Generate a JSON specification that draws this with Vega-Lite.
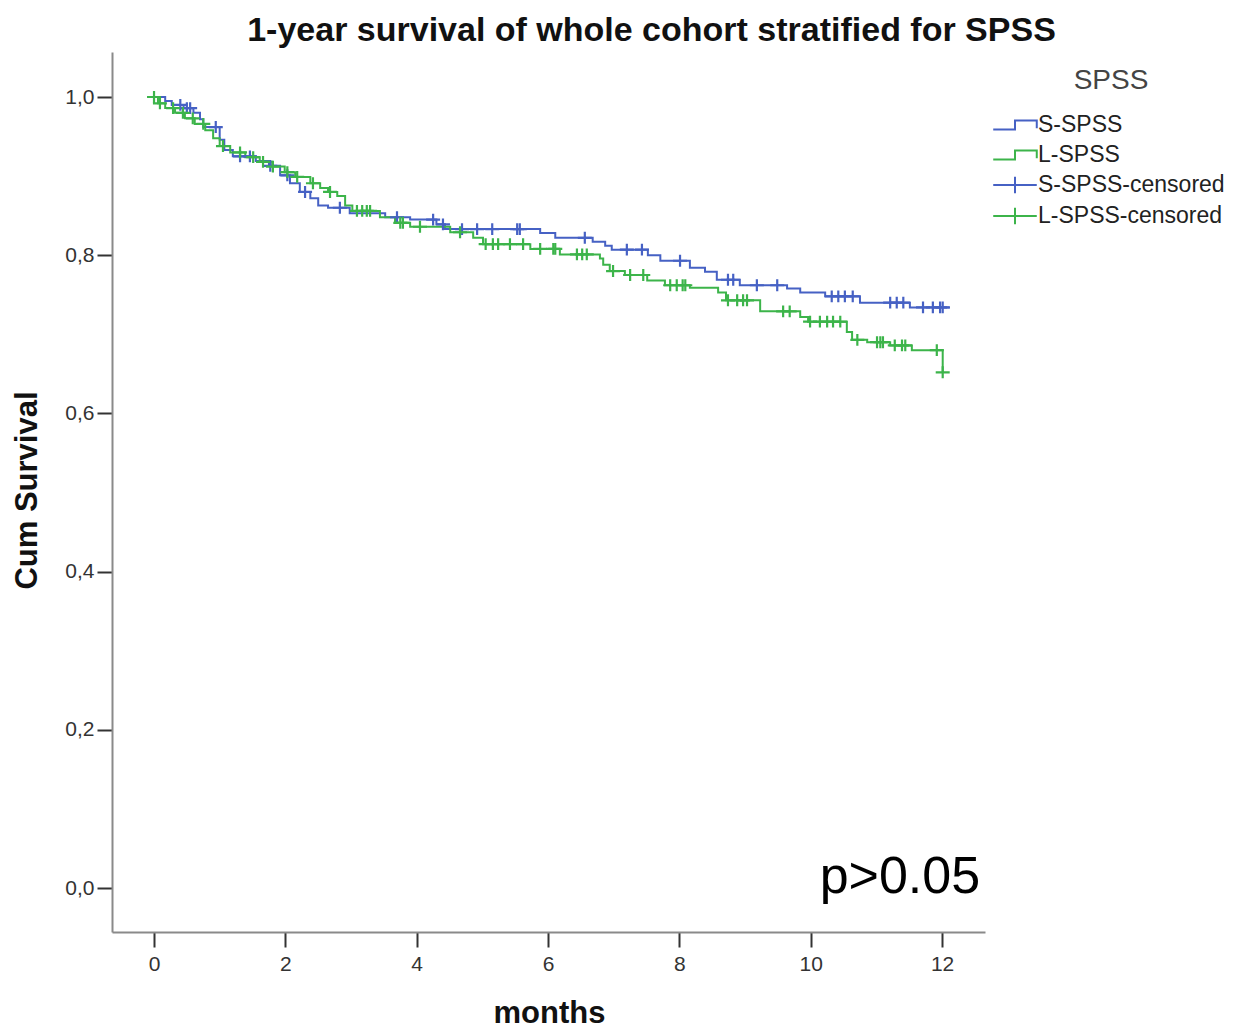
{
  "$schema": "https://vega.github.io/schema/vega-lite/v6.json",
  "autosize": "none",
  "width": 873,
  "height": 880,
  "padding": {"left": 112, "top": 52, "right": 260, "bottom": 98},
  "background": "white",
  "config": {"view": {"stroke": null}},
  "title": {
    "text": "1-year survival of whole cohort stratified for SPSS",
    "font": "Liberation Sans",
    "fontSize": 34,
    "fontWeight": "bold",
    "color": "#111",
    "anchor": "middle",
    "dx": 103,
    "offset": 4
  },
  "datasets": {
    "steps": [
      {"series": "S-SPSS", "months": 0.00, "surv": 1.000},
      {"series": "S-SPSS", "months": 0.17, "surv": 0.995},
      {"series": "S-SPSS", "months": 0.27, "surv": 0.990},
      {"series": "S-SPSS", "months": 0.45, "surv": 0.986},
      {"series": "S-SPSS", "months": 0.60, "surv": 0.980},
      {"series": "S-SPSS", "months": 0.70, "surv": 0.972},
      {"series": "S-SPSS", "months": 0.75, "surv": 0.962},
      {"series": "S-SPSS", "months": 1.00, "surv": 0.946},
      {"series": "S-SPSS", "months": 1.07, "surv": 0.933},
      {"series": "S-SPSS", "months": 1.20, "surv": 0.925},
      {"series": "S-SPSS", "months": 1.55, "surv": 0.919},
      {"series": "S-SPSS", "months": 1.75, "surv": 0.913},
      {"series": "S-SPSS", "months": 1.92, "surv": 0.901},
      {"series": "S-SPSS", "months": 2.07, "surv": 0.891},
      {"series": "S-SPSS", "months": 2.22, "surv": 0.880},
      {"series": "S-SPSS", "months": 2.38, "surv": 0.872},
      {"series": "S-SPSS", "months": 2.50, "surv": 0.863},
      {"series": "S-SPSS", "months": 2.65, "surv": 0.860},
      {"series": "S-SPSS", "months": 2.98, "surv": 0.853},
      {"series": "S-SPSS", "months": 3.52, "surv": 0.848},
      {"series": "S-SPSS", "months": 3.90, "surv": 0.845},
      {"series": "S-SPSS", "months": 4.30, "surv": 0.839},
      {"series": "S-SPSS", "months": 4.43, "surv": 0.833},
      {"series": "S-SPSS", "months": 5.88, "surv": 0.828},
      {"series": "S-SPSS", "months": 6.11, "surv": 0.822},
      {"series": "S-SPSS", "months": 6.68, "surv": 0.817},
      {"series": "S-SPSS", "months": 6.87, "surv": 0.812},
      {"series": "S-SPSS", "months": 6.97, "surv": 0.807},
      {"series": "S-SPSS", "months": 7.52, "surv": 0.800},
      {"series": "S-SPSS", "months": 7.71, "surv": 0.793},
      {"series": "S-SPSS", "months": 8.16, "surv": 0.784},
      {"series": "S-SPSS", "months": 8.39, "surv": 0.779},
      {"series": "S-SPSS", "months": 8.57, "surv": 0.769},
      {"series": "S-SPSS", "months": 8.92, "surv": 0.762},
      {"series": "S-SPSS", "months": 9.64, "surv": 0.758},
      {"series": "S-SPSS", "months": 9.84, "surv": 0.753},
      {"series": "S-SPSS", "months": 10.22, "surv": 0.748},
      {"series": "S-SPSS", "months": 10.75, "surv": 0.740},
      {"series": "S-SPSS", "months": 11.51, "surv": 0.734},
      {"series": "S-SPSS", "months": 12.12, "surv": 0.734},
      {"series": "L-SPSS", "months": 0.00, "surv": 1.000},
      {"series": "L-SPSS", "months": 0.06, "surv": 0.992},
      {"series": "L-SPSS", "months": 0.17, "surv": 0.986},
      {"series": "L-SPSS", "months": 0.32, "surv": 0.980},
      {"series": "L-SPSS", "months": 0.47, "surv": 0.973},
      {"series": "L-SPSS", "months": 0.62, "surv": 0.966},
      {"series": "L-SPSS", "months": 0.78, "surv": 0.958},
      {"series": "L-SPSS", "months": 0.90, "surv": 0.948},
      {"series": "L-SPSS", "months": 1.00, "surv": 0.938},
      {"series": "L-SPSS", "months": 1.16, "surv": 0.930},
      {"series": "L-SPSS", "months": 1.39, "surv": 0.924},
      {"series": "L-SPSS", "months": 1.61, "surv": 0.918},
      {"series": "L-SPSS", "months": 1.80, "surv": 0.912},
      {"series": "L-SPSS", "months": 1.99, "surv": 0.905},
      {"series": "L-SPSS", "months": 2.15, "surv": 0.899},
      {"series": "L-SPSS", "months": 2.38, "surv": 0.891},
      {"series": "L-SPSS", "months": 2.53, "surv": 0.885},
      {"series": "L-SPSS", "months": 2.65, "surv": 0.880},
      {"series": "L-SPSS", "months": 2.79, "surv": 0.875},
      {"series": "L-SPSS", "months": 2.91, "surv": 0.863},
      {"series": "L-SPSS", "months": 3.02, "surv": 0.856},
      {"series": "L-SPSS", "months": 3.44, "surv": 0.848},
      {"series": "L-SPSS", "months": 3.67, "surv": 0.841},
      {"series": "L-SPSS", "months": 3.90, "surv": 0.836},
      {"series": "L-SPSS", "months": 4.51, "surv": 0.829},
      {"series": "L-SPSS", "months": 4.86, "surv": 0.822},
      {"series": "L-SPSS", "months": 5.01, "surv": 0.814},
      {"series": "L-SPSS", "months": 5.73, "surv": 0.808},
      {"series": "L-SPSS", "months": 6.18, "surv": 0.801},
      {"series": "L-SPSS", "months": 6.79, "surv": 0.796},
      {"series": "L-SPSS", "months": 6.84, "surv": 0.788},
      {"series": "L-SPSS", "months": 6.94, "surv": 0.780},
      {"series": "L-SPSS", "months": 7.17, "surv": 0.775},
      {"series": "L-SPSS", "months": 7.51, "surv": 0.768},
      {"series": "L-SPSS", "months": 7.78, "surv": 0.762},
      {"series": "L-SPSS", "months": 8.16, "surv": 0.759},
      {"series": "L-SPSS", "months": 8.59, "surv": 0.753},
      {"series": "L-SPSS", "months": 8.71, "surv": 0.743},
      {"series": "L-SPSS", "months": 9.23, "surv": 0.729},
      {"series": "L-SPSS", "months": 9.84, "surv": 0.722},
      {"series": "L-SPSS", "months": 9.96, "surv": 0.716},
      {"series": "L-SPSS", "months": 10.55, "surv": 0.703},
      {"series": "L-SPSS", "months": 10.63, "surv": 0.693},
      {"series": "L-SPSS", "months": 10.86, "surv": 0.690},
      {"series": "L-SPSS", "months": 11.21, "surv": 0.686},
      {"series": "L-SPSS", "months": 11.54, "surv": 0.680},
      {"series": "L-SPSS", "months": 12.01, "surv": 0.652}
    ],
    "censored": [
      {"series": "S-SPSS-censored", "months": 0.40, "surv": 0.990},
      {"series": "S-SPSS-censored", "months": 0.50, "surv": 0.986},
      {"series": "S-SPSS-censored", "months": 0.55, "surv": 0.986},
      {"series": "S-SPSS-censored", "months": 0.94, "surv": 0.962},
      {"series": "S-SPSS-censored", "months": 1.31, "surv": 0.925},
      {"series": "S-SPSS-censored", "months": 1.46, "surv": 0.925},
      {"series": "S-SPSS-censored", "months": 1.77, "surv": 0.913},
      {"series": "S-SPSS-censored", "months": 2.03, "surv": 0.901},
      {"series": "S-SPSS-censored", "months": 2.30, "surv": 0.880},
      {"series": "S-SPSS-censored", "months": 2.83, "surv": 0.860},
      {"series": "S-SPSS-censored", "months": 3.70, "surv": 0.848},
      {"series": "S-SPSS-censored", "months": 4.25, "surv": 0.845},
      {"series": "S-SPSS-censored", "months": 4.40, "surv": 0.839},
      {"series": "S-SPSS-censored", "months": 4.69, "surv": 0.833},
      {"series": "S-SPSS-censored", "months": 4.92, "surv": 0.833},
      {"series": "S-SPSS-censored", "months": 5.15, "surv": 0.833},
      {"series": "S-SPSS-censored", "months": 5.53, "surv": 0.833},
      {"series": "S-SPSS-censored", "months": 5.57, "surv": 0.833},
      {"series": "S-SPSS-censored", "months": 6.56, "surv": 0.822},
      {"series": "S-SPSS-censored", "months": 7.20, "surv": 0.807},
      {"series": "S-SPSS-censored", "months": 7.43, "surv": 0.807},
      {"series": "S-SPSS-censored", "months": 8.01, "surv": 0.793},
      {"series": "S-SPSS-censored", "months": 8.74, "surv": 0.769},
      {"series": "S-SPSS-censored", "months": 8.82, "surv": 0.769},
      {"series": "S-SPSS-censored", "months": 9.18, "surv": 0.762},
      {"series": "S-SPSS-censored", "months": 9.49, "surv": 0.762},
      {"series": "S-SPSS-censored", "months": 10.32, "surv": 0.748},
      {"series": "S-SPSS-censored", "months": 10.42, "surv": 0.748},
      {"series": "S-SPSS-censored", "months": 10.52, "surv": 0.748},
      {"series": "S-SPSS-censored", "months": 10.64, "surv": 0.748},
      {"series": "S-SPSS-censored", "months": 11.21, "surv": 0.740},
      {"series": "S-SPSS-censored", "months": 11.31, "surv": 0.740},
      {"series": "S-SPSS-censored", "months": 11.41, "surv": 0.740},
      {"series": "S-SPSS-censored", "months": 11.71, "surv": 0.734},
      {"series": "S-SPSS-censored", "months": 11.86, "surv": 0.734},
      {"series": "S-SPSS-censored", "months": 11.97, "surv": 0.734},
      {"series": "S-SPSS-censored", "months": 12.01, "surv": 0.734},
      {"series": "L-SPSS-censored", "months": 0.00, "surv": 1.000},
      {"series": "L-SPSS-censored", "months": 0.09, "surv": 0.992},
      {"series": "L-SPSS-censored", "months": 0.29, "surv": 0.986},
      {"series": "L-SPSS-censored", "months": 0.44, "surv": 0.980},
      {"series": "L-SPSS-censored", "months": 0.59, "surv": 0.973},
      {"series": "L-SPSS-censored", "months": 0.75, "surv": 0.966},
      {"series": "L-SPSS-censored", "months": 1.05, "surv": 0.938},
      {"series": "L-SPSS-censored", "months": 1.31, "surv": 0.930},
      {"series": "L-SPSS-censored", "months": 1.51, "surv": 0.924},
      {"series": "L-SPSS-censored", "months": 1.66, "surv": 0.918},
      {"series": "L-SPSS-censored", "months": 1.81, "surv": 0.912},
      {"series": "L-SPSS-censored", "months": 2.03, "surv": 0.905},
      {"series": "L-SPSS-censored", "months": 2.18, "surv": 0.899},
      {"series": "L-SPSS-censored", "months": 2.42, "surv": 0.891},
      {"series": "L-SPSS-censored", "months": 2.68, "surv": 0.880},
      {"series": "L-SPSS-censored", "months": 3.09, "surv": 0.856},
      {"series": "L-SPSS-censored", "months": 3.17, "surv": 0.856},
      {"series": "L-SPSS-censored", "months": 3.24, "surv": 0.856},
      {"series": "L-SPSS-censored", "months": 3.29, "surv": 0.856},
      {"series": "L-SPSS-censored", "months": 3.75, "surv": 0.841},
      {"series": "L-SPSS-censored", "months": 3.79, "surv": 0.841},
      {"series": "L-SPSS-censored", "months": 4.05, "surv": 0.836},
      {"series": "L-SPSS-censored", "months": 4.66, "surv": 0.829},
      {"series": "L-SPSS-censored", "months": 5.05, "surv": 0.814},
      {"series": "L-SPSS-censored", "months": 5.16, "surv": 0.814},
      {"series": "L-SPSS-censored", "months": 5.24, "surv": 0.814},
      {"series": "L-SPSS-censored", "months": 5.42, "surv": 0.814},
      {"series": "L-SPSS-censored", "months": 5.62, "surv": 0.814},
      {"series": "L-SPSS-censored", "months": 5.88, "surv": 0.808},
      {"series": "L-SPSS-censored", "months": 6.08, "surv": 0.808},
      {"series": "L-SPSS-censored", "months": 6.11, "surv": 0.808},
      {"series": "L-SPSS-censored", "months": 6.44, "surv": 0.801},
      {"series": "L-SPSS-censored", "months": 6.52, "surv": 0.801},
      {"series": "L-SPSS-censored", "months": 6.59, "surv": 0.801},
      {"series": "L-SPSS-censored", "months": 6.99, "surv": 0.780},
      {"series": "L-SPSS-censored", "months": 7.25, "surv": 0.775},
      {"series": "L-SPSS-censored", "months": 7.45, "surv": 0.775},
      {"series": "L-SPSS-censored", "months": 7.86, "surv": 0.762},
      {"series": "L-SPSS-censored", "months": 7.96, "surv": 0.762},
      {"series": "L-SPSS-censored", "months": 8.05, "surv": 0.762},
      {"series": "L-SPSS-censored", "months": 8.09, "surv": 0.762},
      {"series": "L-SPSS-censored", "months": 8.74, "surv": 0.743},
      {"series": "L-SPSS-censored", "months": 8.88, "surv": 0.743},
      {"series": "L-SPSS-censored", "months": 8.97, "surv": 0.743},
      {"series": "L-SPSS-censored", "months": 9.03, "surv": 0.743},
      {"series": "L-SPSS-censored", "months": 9.58, "surv": 0.729},
      {"series": "L-SPSS-censored", "months": 9.68, "surv": 0.729},
      {"series": "L-SPSS-censored", "months": 9.99, "surv": 0.716},
      {"series": "L-SPSS-censored", "months": 10.14, "surv": 0.716},
      {"series": "L-SPSS-censored", "months": 10.25, "surv": 0.716},
      {"series": "L-SPSS-censored", "months": 10.34, "surv": 0.716},
      {"series": "L-SPSS-censored", "months": 10.45, "surv": 0.716},
      {"series": "L-SPSS-censored", "months": 10.71, "surv": 0.693},
      {"series": "L-SPSS-censored", "months": 11.01, "surv": 0.690},
      {"series": "L-SPSS-censored", "months": 11.06, "surv": 0.690},
      {"series": "L-SPSS-censored", "months": 11.10, "surv": 0.690},
      {"series": "L-SPSS-censored", "months": 11.28, "surv": 0.686},
      {"series": "L-SPSS-censored", "months": 11.39, "surv": 0.686},
      {"series": "L-SPSS-censored", "months": 11.44, "surv": 0.686},
      {"series": "L-SPSS-censored", "months": 11.92, "surv": 0.680},
      {"series": "L-SPSS-censored", "months": 12.01, "surv": 0.652}
    ],
    "notes": [
      {"label": "p>0.05", "months": 12.58, "surv": -0.006}
    ]
  },
  "encoding": {
    "x": {
      "field": "months",
      "type": "quantitative",
      "scale": {"domain": [-0.64, 12.654], "nice": false, "zero": false},
      "axis": {
        "title": "months",
        "values": [0, 2, 4, 6, 8, 10, 12],
        "grid": false,
        "domainColor": "#8a8a8a",
        "domainWidth": 2,
        "tickColor": "#333",
        "tickWidth": 2,
        "tickSize": 15,
        "labelFont": "Liberation Sans",
        "labelFontSize": 21,
        "labelColor": "#333",
        "labelPadding": 6,
        "titleFont": "Liberation Sans",
        "titleFontSize": 31,
        "titleFontWeight": "bold",
        "titleColor": "#111",
        "titleX": 437,
        "titleY": 81,
        "titleBaseline": "middle"
      }
    },
    "y": {
      "field": "surv",
      "type": "quantitative",
      "scale": {"domain": [-0.0556, 1.0569], "nice": false, "zero": false},
      "axis": {
        "title": "Cum Survival",
        "values": [0, 0.2, 0.4, 0.6, 0.8, 1.0],
        "labelExpr": "replace(format(datum.value, '.1f'), '.', ',')",
        "grid": false,
        "domainColor": "#8a8a8a",
        "domainWidth": 2,
        "tickColor": "#333",
        "tickWidth": 2,
        "tickSize": 15,
        "labelFont": "Liberation Sans",
        "labelFontSize": 21,
        "labelColor": "#333",
        "labelPadding": 3,
        "titleFont": "Liberation Sans",
        "titleFontSize": 31,
        "titleFontWeight": "bold",
        "titleColor": "#111",
        "titleX": -85,
        "titleY": 438,
        "titleBaseline": "middle",
        "titleAngle": -90
      }
    }
  },
  "resolve": {"legend": {"color": "independent", "shape": "independent"}},
  "layer": [
    {
      "data": {"name": "steps"},
      "mark": {"type": "line", "interpolate": "step-after", "strokeWidth": 2},
      "encoding": {
        "color": {
          "field": "series",
          "type": "nominal",
          "scale": {
            "domain": ["S-SPSS", "L-SPSS", "S-SPSS-censored", "L-SPSS-censored"],
            "range": ["#4661c4", "#3cb44a", "#4661c4", "#3cb44a"]
          },
          "legend": null
        },
        "detail": {"field": "series"}
      }
    },
    {
      "data": {"name": "censored"},
      "mark": {"type": "point", "filled": false, "size": 196, "strokeWidth": 2.2, "opacity": 1, "shape": "M-1,0H1M0,-0.85V0.85"},
      "encoding": {
        "color": {"field": "series", "type": "nominal", "legend": null}
      }
    },
    {
      "data": {"name": "censored"},
      "mark": {"type": "point", "filled": false, "size": 0, "opacity": 1},
      "encoding": {
        "color": {
          "field": "series",
          "type": "nominal",
          "title": "SPSS",
          "legend": {
            "orient": "none",
            "legendX": 885,
            "legendY": 15,
            "titleAnchor": "middle",
            "titleFont": "Liberation Sans",
            "titleFontSize": 28,
            "titleFontWeight": "normal",
            "titleColor": "#444",
            "titlePadding": 12,
            "labelFont": "Liberation Sans",
            "labelFontSize": 23,
            "labelColor": "#222",
            "labelOffset": 5,
            "labelLimit": 400,
            "symbolSize": 1122,
            "symbolStrokeWidth": 2,
            "rowPadding": 0
          }
        },
        "shape": {
          "field": "series",
          "type": "nominal",
          "title": "SPSS",
          "scale": {
            "domain": ["S-SPSS", "L-SPSS", "S-SPSS-censored", "L-SPSS-censored"],
            "range": ["M-1.3,0.27H0V-0.27H1.3V0.2", "M-1.3,0.27H0V-0.27H1.3V0.2", "M-1.3,0H1.3M0,-0.5V0.5", "M-1.3,0H1.3M0,-0.5V0.5"]
          },
          "legend": {
            "orient": "none",
            "legendX": 885,
            "legendY": 15,
            "titleAnchor": "middle",
            "titleFont": "Liberation Sans",
            "titleFontSize": 28,
            "titleFontWeight": "normal",
            "titleColor": "#444",
            "titlePadding": 12,
            "labelFont": "Liberation Sans",
            "labelFontSize": 23,
            "labelColor": "#222",
            "labelOffset": 5,
            "labelLimit": 400,
            "symbolSize": 1122,
            "symbolStrokeWidth": 2,
            "rowPadding": 0
          }
        }
      }
    },
    {
      "data": {"name": "notes"},
      "mark": {"type": "text", "align": "right", "baseline": "alphabetic", "font": "Liberation Sans", "fontSize": 52, "color": "#000"},
      "encoding": {
        "text": {"field": "label"}
      }
    }
  ]
}
